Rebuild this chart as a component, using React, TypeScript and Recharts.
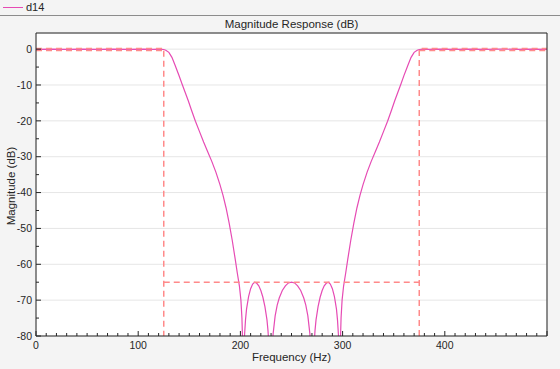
import { LineChart, Line, XAxis, YAxis, CartesianGrid } from 'recharts';

// magnitude response of filter d14 (Hz, dB)
const freqHz = [
  0, 15, 30, 45, 60, 75, 90, 105, 115, 120, 123, 125, 127, 130, 133, 136, 140, 143, 146, 149,
  152, 156, 160, 164, 168, 172, 176, 180, 183, 186, 189, 192, 195, 197, 199, 200.5, 201.5, 202,
  202.5, 203, 204, 205, 206, 208, 210, 212, 214, 216, 218, 220, 222, 224, 226, 227, 228, 229,
  229.5, 230, 231, 232, 234, 236, 238, 241, 244, 247, 250, 253, 256, 259, 262, 264, 266, 268,
  269, 270, 270.5, 271, 272, 273, 274, 276, 278, 280, 282, 284, 286, 288, 290, 292, 294, 295,
  296, 297, 297.5, 298, 298.5, 299.5, 301, 303, 305, 308, 311, 314, 317, 320, 324, 328, 332,
  336, 340, 344, 348, 351, 354, 357, 360, 364, 367, 370, 373, 375, 377, 380, 385, 395, 410,
  425, 440, 455, 470, 485, 500,
];
const magDb = [
  -0.05, 0.02, -0.06, 0.02, -0.06, 0.02, -0.06, 0.02, -0.04, 0, -0.05, -0.1, -0.3, -0.9, -2.3,
  -4.4, -7.4, -9.8, -12.1, -14.4, -16.9, -20.1, -23.0, -25.9, -28.6, -31.3, -34.3, -37.8, -40.8,
  -44.3, -48.5, -53.3, -58.7, -62.5, -66.0, -70.0, -75.0, -80.0,
  -110, -88, -80, -75.5, -72.5, -69, -66.8, -65.5, -65, -65.3, -66, -67.3, -69.2, -71.8, -75.5,
  -78.5, -83, -92,
  -120, -93, -83.8, -79.4, -74.4, -71.4, -69.4, -67.3, -66, -65.2, -65, -65.2, -66, -67.3,
  -69.4, -71.4, -74.4, -79.4, -83.8, -93, -120, -92, -83, -78.5, -75.5, -71.8, -69.2, -67.3,
  -66, -65.3, -65, -65.5, -66.8, -69, -72.5, -75.5, -80, -88, -110, -80, -75, -70, -66, -62.5,
  -58.7, -53.3, -48.5, -44.3, -40.8, -37.8, -34.3, -31.3, -28.6, -25.9, -23.0, -20.1, -16.9,
  -14.4, -12.1, -9.8, -7.4, -4.4, -2.3, -0.9, -0.3, -0.1, -0.05, 0, -0.04, 0.02, -0.06, 0.02,
  -0.06, 0.02, -0.06, 0.02, -0.05,
];

// specification mask
const maskPassLeftHz = [0, 125, 125];
const maskPassLeftDb = [0.2, 0.2, -80];
const maskPassLeftLowHz = [0, 125];
const maskPassLeftLowDb = [-0.4, -0.4];
const maskStopHz = [125, 375];
const maskStopDb = [-65, -65];
const maskPassRightHz = [375, 375, 500];
const maskPassRightDb = [-80, 0.2, 0.2];
const maskPassRightLowHz = [375, 500];
const maskPassRightLowDb = [-0.4, -0.4];

const xMajor = [0, 100, 200, 300, 400];
const yMajor = [0, -10, -20, -30, -40, -50, -60, -70, -80];
const xMinor: number[] = [];
for (let v = 0; v <= 500; v += 10) xMinor.push(v);
const yMinor: number[] = [];
for (let v = 0; v >= -80; v -= 5) yMinor.push(v);

const toRows = (xs: number[], ys: number[]) => xs.map((x, i) => ({ x, y: ys[i] }));

const AX = '#262626';
const LINE = '#e64bb4';
const MASK = '#ff8a8a';
const FONT = '"Liberation Sans", Arial, sans-serif';

const BottomTick = (p: any) => {
  const v = p.payload.value;
  const major = v % 100 === 0;
  return (
    <g>
      <line x1={p.x} x2={p.x} y1={p.y} y2={p.y - (major ? 5 : 3)} stroke={AX} />
      {major && v <= 400 && (
        <text x={p.x} y={p.y + 13} textAnchor="middle" fontSize={10.5} fill={AX} fontFamily={FONT}>
          {v}
        </text>
      )}
    </g>
  );
};
const TopTick = (p: any) => {
  const major = p.payload.value % 100 === 0;
  return <line x1={p.x} x2={p.x} y1={p.y} y2={p.y + (major ? 5 : 3)} stroke={AX} />;
};
const LeftTick = (p: any) => {
  const v = p.payload.value;
  const major = v % 10 === 0;
  return (
    <g>
      <line x1={p.x} x2={p.x + (major ? 5 : 3)} y1={p.y} y2={p.y} stroke={AX} />
      {major && (
        <text x={p.x - 4} y={p.y} dy="0.35em" textAnchor="end" fontSize={10.5} fill={AX} fontFamily={FONT}>
          {v}
        </text>
      )}
    </g>
  );
};
const RightTick = (p: any) => {
  const major = p.payload.value % 10 === 0;
  return <line x1={p.x} x2={p.x - (major ? 5 : 3)} y1={p.y} y2={p.y} stroke={AX} />;
};

export default function App() {
  const resp = toRows(freqHz, magDb);
  const masks = [
    toRows(maskPassLeftHz, maskPassLeftDb),
    toRows(maskPassLeftLowHz, maskPassLeftLowDb),
    toRows(maskStopHz, maskStopDb),
    toRows(maskPassRightHz, maskPassRightDb),
    toRows(maskPassRightLowHz, maskPassRightLowDb),
  ];

  return (
    <div style={{ position: 'absolute', left: 0, top: 0, width: 560, height: 369, background: '#f4f4f4', fontFamily: FONT, color: AX }}>
      {/* legend strip */}
      <div style={{ position: 'absolute', left: 3, top: 7, width: 20, height: 1, background: LINE }} />
      <div style={{ position: 'absolute', left: 26, top: 1, fontSize: 11 }}>d14</div>
      <div style={{ position: 'absolute', left: 0, top: 15, width: 560, height: 1, background: '#8c8c8c' }} />

      <div style={{ position: 'absolute', left: 36, width: 511, top: 18, textAlign: 'center', fontSize: 11.5 }}>
        Magnitude Response (dB)
      </div>
      <div style={{ position: 'absolute', left: 36, width: 511, top: 351, textAlign: 'center', fontSize: 11.5 }}>
        Frequency (Hz)
      </div>
      <div
        style={{
          position: 'absolute', left: 11, top: 186, fontSize: 11.5, whiteSpace: 'nowrap',
          transform: 'translate(-50%, -50%) rotate(-90deg)',
        }}
      >
        Magnitude (dB)
      </div>

      <div style={{ position: 'absolute', left: 0, top: 16 }}>
        <LineChart width={560} height={353} margin={{ top: 16, right: 12, bottom: 0, left: 0 }}>
          <CartesianGrid xAxisId="g" yAxisId="g" stroke="#e6e6e6" fill="#ffffff" />
          <XAxis xAxisId="g" type="number" dataKey="x" domain={[0, 500]} ticks={xMajor} hide />
          <YAxis yAxisId="g" type="number" domain={[-80, 4.5]} ticks={yMajor} hide allowDataOverflow />
          <XAxis
            type="number" dataKey="x" domain={[0, 500]} ticks={xMinor} interval={0} height={33}
            tickSize={0} tickMargin={0} tick={<BottomTick />} stroke={AX} allowDataOverflow
          />
          <XAxis
            xAxisId="top" orientation="top" type="number" dataKey="x" domain={[0, 500]} ticks={xMinor}
            interval={0} height={1} tickSize={0} tickMargin={0} tick={<TopTick />} stroke={AX}
          />
          <YAxis
            type="number" domain={[-80, 4.5]} ticks={yMinor} interval={0} width={36} tickSize={0}
            tickMargin={0} tick={<LeftTick />} stroke={AX} allowDataOverflow
          />
          <YAxis
            yAxisId="right" orientation="right" type="number" domain={[-80, 4.5]} ticks={yMinor}
            interval={0} width={1} tickSize={0} tickMargin={0} tick={<RightTick />} stroke={AX}
          />
          <Line data={resp} dataKey="y" type="linear" stroke={LINE} strokeWidth={1.2} dot={false} isAnimationActive={false} />
          {masks.map((m, i) => (
            <Line
              key={i} data={m} dataKey="y" type="linear" stroke={MASK} strokeWidth={1.5}
              strokeDasharray="6 4" dot={false} isAnimationActive={false}
            />
          ))}
        </LineChart>
      </div>
    </div>
  );
}
